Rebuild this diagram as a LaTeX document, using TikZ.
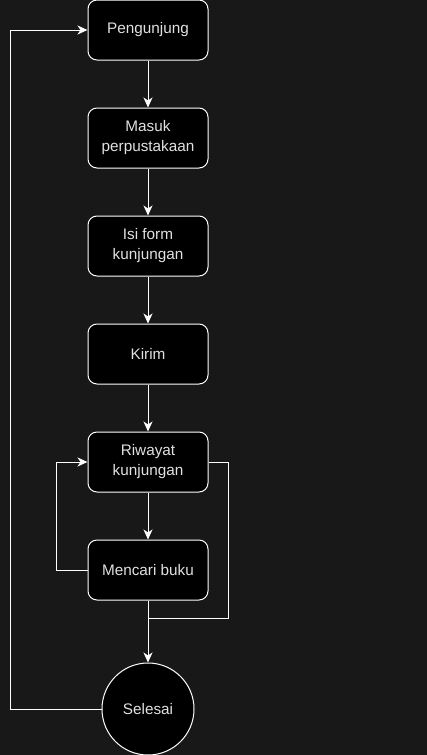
\documentclass[tikz,border=0pt]{standalone}
\usepackage{fontspec}
\setmainfont{Liberation Sans}
\usetikzlibrary{arrows.meta}
\definecolor{bg}{RGB}{24,24,24}
\definecolor{txt}{RGB}{225,225,225}
\begin{document}
\begin{tikzpicture}[x=1pt,y=-1pt,
  box/.style={draw=white,fill=black,line width=1pt,rounded corners=9pt,
    minimum width=120pt,minimum height=60pt,inner sep=0pt,align=center,
    text=txt,font=\fontsize{15.3}{20}\selectfont},
  endnode/.style={circle,draw=white,fill=black,line width=1pt,minimum size=92pt,
    inner sep=0pt,text=txt,font=\fontsize{15.3}{20}\selectfont},
  arr/.style={draw=white,line width=1pt,-{Stealth[length=10pt,width=9pt,inset=3pt]}},
  ln/.style={draw=white,line width=1pt}]
\fill[bg] (0,0) rectangle (427,755);
\useasboundingbox (0,0) rectangle (427,755);
\node[box] (p) at (148,30) {Pengunjung};
\node[box] (m) at (148,138) {Masuk\\perpustakaan};
\node[box] (f) at (148,246) {Isi form\\kunjungan};
\node[box] (k) at (148,354) {Kirim};
\node[box] (rw) at (148,462) {Riwayat\\kunjungan};
\node[box] (mc) at (148,570) {Mencari buku};
\node[endnode] (s) at (148,709) {Selesai};
\coordinate (cL) at (10,709);
\coordinate (cM) at (56,570);
\coordinate (cR) at (228,462);
\coordinate (cJ) at (148,618);
\draw[arr] (p) -- (m);
\draw[arr] (m) -- (f);
\draw[arr] (f) -- (k);
\draw[arr] (k) -- (rw);
\draw[arr] (rw) -- (mc);
\draw[arr] (mc.south) -- (s.north);
\draw[ln] (rw.east) -- (cR) |- (cJ);
\draw[arr] (mc.west) -- (cM) |- (rw.west);
\draw[arr] (s.west) -- (cL) |- (p.west);
\end{tikzpicture}
\end{document}
